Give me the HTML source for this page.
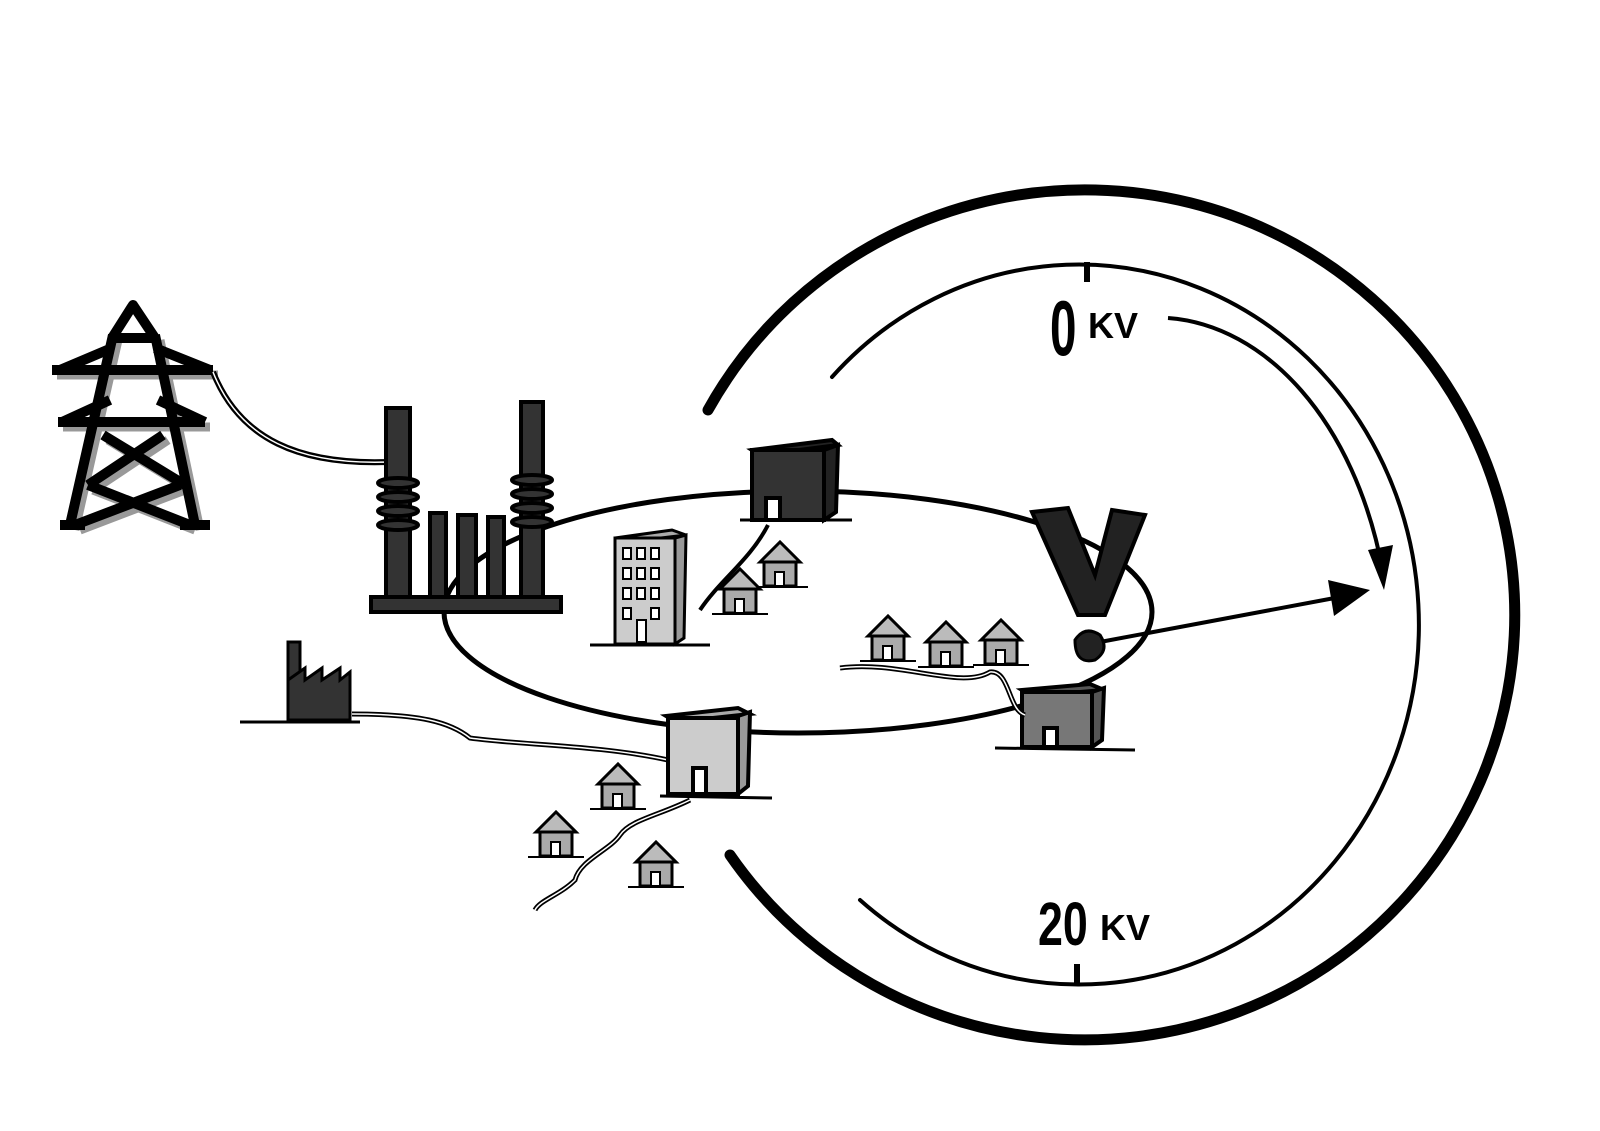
<!DOCTYPE html>
<html><head><style>
html,body{margin:0;padding:0;background:#fff;}
svg{display:block;}
text{font-family:"Liberation Sans",sans-serif;}
</style></head><body>
<svg width="1600" height="1131" viewBox="0 0 1600 1131" xmlns="http://www.w3.org/2000/svg">
<rect width="1600" height="1131" fill="#fff"/>
<!-- big outer arc -->
<path d="M708,410 A430,425 0 1 1 730,855" fill="none" stroke="#000" stroke-width="11" stroke-linecap="round"/>
<!-- inner thin arc -->
<path d="M832,377 A340,360 0 1 1 860,900" fill="none" stroke="#000" stroke-width="4" stroke-linecap="round"/>
<line x1="1087" y1="262" x2="1087" y2="282" stroke="#000" stroke-width="6"/>
<line x1="1077" y1="964" x2="1077" y2="985" stroke="#000" stroke-width="6"/>
<text x="1050" y="355" font-size="68" font-weight="bold" transform="translate(1050,355) scale(0.7,1.15) translate(-1050,-355)">0</text>
<text x="1088" y="338" font-size="36" font-weight="bold">KV</text>
<text x="1038" y="945" font-size="56" font-weight="bold" transform="translate(1038,945) scale(0.8,1.1) translate(-1038,-945)">20</text>
<text x="1100" y="940" font-size="36" font-weight="bold">KV</text>
<!-- curved arrow -->
<path d="M1168,318 C1265,325 1355,420 1383,572" fill="none" stroke="#000" stroke-width="4"/>
<polygon points="1368,550 1393,545 1384,590" fill="#000"/>
<!-- straight arrow -->
<line x1="1100" y1="642" x2="1340" y2="597" stroke="#000" stroke-width="4"/>
<polygon points="1328,580 1370,590 1334,616" fill="#000"/>
<!-- ellipse -->
<ellipse cx="798" cy="612" rx="354" ry="121" fill="none" stroke="#000" stroke-width="5"/>
<!-- V -->
<polygon points="1032,512 1068,508 1095,575 1112,510 1145,515 1105,615 1078,615" fill="#222" stroke="#000" stroke-width="4"/>
<path d="M1075,640 q10,-15 25,-5 q10,15 -5,25 q-20,5 -20,-20z" fill="#222" stroke="#000" stroke-width="3"/>
<!-- tower shadow -->
<g stroke="#999" stroke-width="9" fill="none" stroke-linejoin="round" transform="translate(5,5)">
<path d="M113,335 L70,525 M155,335 L195,525"/>
<path d="M52,370 L213,370 M58,422 L205,422"/>
<path d="M103,435 L185,485 M163,435 L88,485 M88,485 L190,525 M180,485 L75,525"/>
</g>
<!-- tower -->
<g stroke="#000" stroke-width="10" fill="none" stroke-linejoin="round">
<path d="M112,338 L133,305 L155,338" />
<path d="M112,338 L155,338"/>
<path d="M113,335 L70,525 M155,335 L195,525"/>
<path d="M52,370 L213,370 M60,370 L112,348 M155,348 L210,370"/>
<path d="M58,422 L205,422 M62,422 L110,400 M158,400 L205,422"/>
<path d="M103,435 L185,485 M163,435 L88,485 M88,485 L190,525 M180,485 L75,525"/>
<path d="M60,525 L85,525 M180,525 L210,525"/>
</g>
<!-- cable -->
<path d="M213,372 C240,440 300,465 388,462" fill="none" stroke="#000" stroke-width="6"/>
<path d="M213,372 C240,440 300,465 388,462" fill="none" stroke="#fff" stroke-width="1.5"/>
<!-- substation -->
<g stroke="#000" stroke-width="4" fill="#333">
<rect x="386" y="408" width="24" height="192"/>
<rect x="521" y="402" width="22" height="198"/>
<rect x="430" y="513" width="16" height="85"/>
<rect x="458" y="515" width="18" height="83"/>
<rect x="488" y="517" width="16" height="81"/>
<ellipse cx="398" cy="483" rx="20" ry="5"/><ellipse cx="398" cy="497" rx="20" ry="5"/><ellipse cx="398" cy="511" rx="20" ry="5"/><ellipse cx="398" cy="525" rx="20" ry="5"/>
<ellipse cx="532" cy="480" rx="20" ry="5"/><ellipse cx="532" cy="494" rx="20" ry="5"/><ellipse cx="532" cy="508" rx="20" ry="5"/><ellipse cx="532" cy="522" rx="20" ry="5"/>
<rect x="371" y="597" width="190" height="15"/>
</g>
<!-- top box -->
<g stroke="#000" stroke-width="4">
<polygon points="752,450 832,440 838,445 760,455" fill="#222"/>
<rect x="752" y="450" width="72" height="70" fill="#333"/>
<polygon points="824,450 838,445 836,512 824,520" fill="#222"/>
<rect x="766" y="498" width="14" height="22" fill="#fff"/>
</g>
<line x1="740" y1="520" x2="852" y2="520" stroke="#000" stroke-width="3"/>
<!-- apartment -->
<g stroke="#000" stroke-width="3">
<polygon points="615,538 672,530 686,535 628,542" fill="#aaa"/>
<rect x="615" y="538" width="60" height="106" fill="#ccc"/>
<polygon points="675,538 686,535 684,638 675,644" fill="#999"/>
</g>
<g fill="#fff" stroke="#000" stroke-width="2">
<rect x="623" y="548" width="8" height="11"/><rect x="637" y="548" width="8" height="11"/><rect x="651" y="548" width="8" height="11"/>
<rect x="623" y="568" width="8" height="11"/><rect x="637" y="568" width="8" height="11"/><rect x="651" y="568" width="8" height="11"/>
<rect x="623" y="588" width="8" height="11"/><rect x="637" y="588" width="8" height="11"/><rect x="651" y="588" width="8" height="11"/>
<rect x="623" y="608" width="8" height="11"/><rect x="651" y="608" width="8" height="11"/><rect x="637" y="620" width="9" height="22"/>
</g>
<line x1="590" y1="645" x2="710" y2="645" stroke="#000" stroke-width="3"/>
<path d="M700,610 C720,580 750,560 768,525" fill="none" stroke="#000" stroke-width="4"/>
<!-- houses -->
<defs>
<g id="h"><polygon points="0,14 20,-6 40,14" fill="#bbb" stroke="#000" stroke-width="3"/><rect x="4" y="14" width="32" height="24" fill="#aaa" stroke="#000" stroke-width="3"/><rect x="15" y="24" width="9" height="14" fill="#fff" stroke="#000" stroke-width="2"/><line x1="-8" y1="39" x2="48" y2="39" stroke="#000" stroke-width="2"/></g>
</defs>
<use href="#h" x="760" y="548"/>
<use href="#h" x="720" y="575"/>
<use href="#h" x="868" y="622"/>
<use href="#h" x="926" y="628"/>
<use href="#h" x="981" y="626"/>
<use href="#h" x="598" y="770"/>
<use href="#h" x="536" y="818"/>
<use href="#h" x="636" y="848"/>
<!-- right box -->
<g stroke="#000" stroke-width="4">
<polygon points="1022,690 1090,684 1104,690 1032,696" fill="#555"/>
<rect x="1022" y="692" width="70" height="55" fill="#777"/>
<polygon points="1092,692 1104,688 1102,740 1092,747" fill="#555"/>
<rect x="1044" y="728" width="13" height="19" fill="#fff"/>
</g>
<line x1="995" y1="748" x2="1135" y2="750" stroke="#000" stroke-width="3"/>
<path d="M840,668 C900,660 960,690 990,672 C1010,670 1008,710 1025,715" fill="none" stroke="#000" stroke-width="5"/>
<path d="M840,668 C900,660 960,690 990,672 C1010,670 1008,710 1025,715" fill="none" stroke="#fff" stroke-width="1.5"/>
<!-- factory -->
<g stroke="#000" stroke-width="3" fill="#333">
<rect x="288" y="642" width="12" height="60"/>
<polygon points="288,720 288,680 305,668 305,680 322,668 322,680 340,668 340,680 350,672 350,720"/>
</g>
<line x1="240" y1="722" x2="360" y2="722" stroke="#000" stroke-width="3"/>
<path d="M352,714 C420,714 450,722 470,738 C520,745 600,745 668,760" fill="none" stroke="#000" stroke-width="5"/>
<path d="M352,714 C420,714 450,722 470,738 C520,745 600,745 668,760" fill="none" stroke="#fff" stroke-width="1.5"/>
<!-- bottom box -->
<g stroke="#000" stroke-width="4">
<polygon points="666,716 738,708 750,714 676,722" fill="#aaa"/>
<rect x="668" y="718" width="70" height="76" fill="#ccc"/>
<polygon points="738,716 750,712 748,786 738,794" fill="#999"/>
<rect x="693" y="768" width="13" height="26" fill="#fff"/>
</g>
<line x1="660" y1="796" x2="772" y2="798" stroke="#000" stroke-width="3"/>
<path d="M690,800 C660,815 630,820 620,835 C610,850 580,860 575,880 C560,895 540,900 535,910" fill="none" stroke="#000" stroke-width="5"/>
<path d="M690,800 C660,815 630,820 620,835 C610,850 580,860 575,880 C560,895 540,900 535,910" fill="none" stroke="#fff" stroke-width="1.5"/>
</svg>
</body></html>
